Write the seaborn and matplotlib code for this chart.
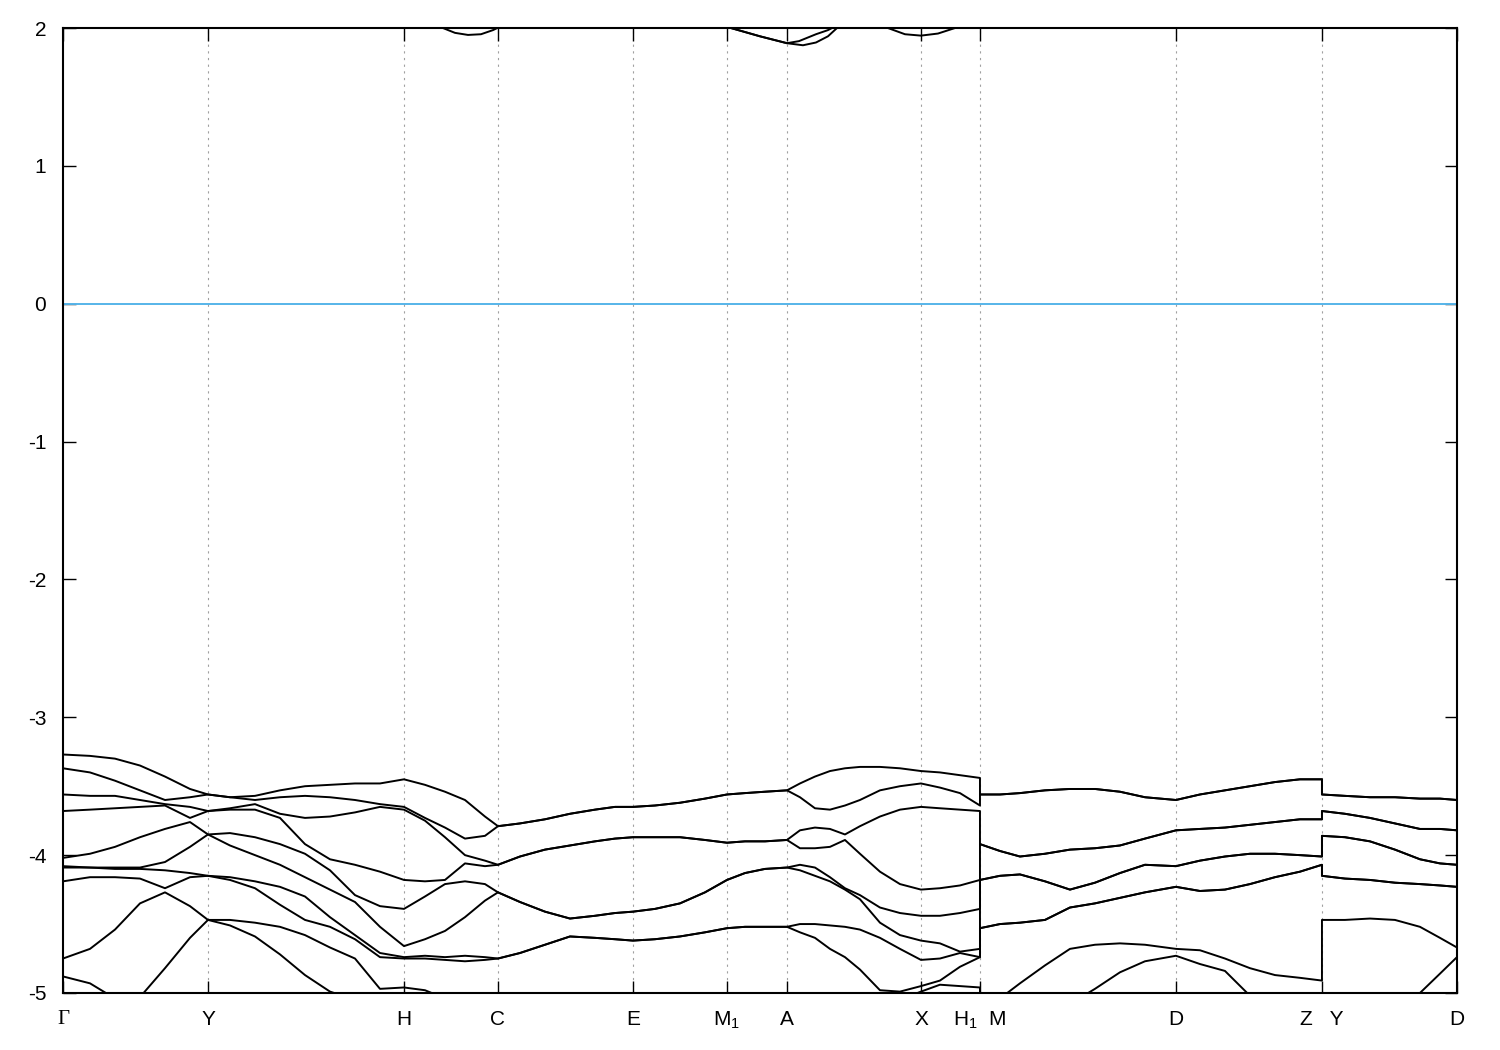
import matplotlib
matplotlib.use("Agg")
import matplotlib.pyplot as plt
import pandas as pd
import seaborn as sns

# high-symmetry points along the k-path
sym_k = [0.00, 1.45, 3.41, 4.35, 5.70, 6.64, 7.24, 8.58, 9.17, 11.13, 12.59, 13.94]
sym_labels = ["Γ", "Y", "H", "C", "E", "M$_1$", "A", "X", "H$_1$  M", "D", "Z   Y", "D"]

# sampled k values (H1|M and Z|Y are path jumps, so they appear twice)
k_grid = [0.00, 0.27, 0.52, 0.77, 1.02, 1.27, 1.45,
          1.67, 1.92, 2.17, 2.42, 2.67, 2.92, 3.17, 3.41,
          3.62, 3.82, 4.02, 4.22, 4.35,
          4.57, 4.82, 5.07, 5.32, 5.52, 5.70,
          5.92, 6.17, 6.42, 6.64,
          6.82, 7.02, 7.24,
          7.37, 7.52, 7.67, 7.82, 7.97, 8.17, 8.37, 8.58,
          8.77, 8.97, 9.17,
          9.17,
          9.37, 9.57, 9.82, 10.07, 10.32, 10.57, 10.82, 11.13,
          11.37, 11.62, 11.87, 12.12, 12.37, 12.59,
          12.59,
          12.82, 13.07, 13.32, 13.57, 13.77, 13.94]

# valence bands (eV), sorted from the top
band_1 = [-3.27, -3.28, -3.30, -3.35, -3.43, -3.52, -3.56,
          -3.58, -3.57, -3.53, -3.50, -3.49, -3.48, -3.48, -3.45,
          -3.49, -3.54, -3.60, -3.72, -3.79,
          -3.77, -3.74, -3.70, -3.67, -3.65, -3.65,
          -3.64, -3.62, -3.59, -3.56,
          -3.55, -3.54, -3.53,
          -3.48, -3.43, -3.39, -3.37, -3.36, -3.36, -3.37, -3.39,
          -3.40, -3.42, -3.44,
          -3.56,
          -3.56, -3.55, -3.53, -3.52, -3.52, -3.54, -3.58, -3.60,
          -3.56, -3.53, -3.50, -3.47, -3.45, -3.45,
          -3.56,
          -3.57, -3.58, -3.58, -3.59, -3.59, -3.60]
band_2 = [-3.37, -3.40, -3.46, -3.53, -3.60, -3.58, -3.56,
          -3.58, -3.60, -3.58, -3.57, -3.58, -3.60, -3.63, -3.65,
          -3.73, -3.80, -3.88, -3.86, -3.79,
          -3.77, -3.74, -3.70, -3.67, -3.65, -3.65,
          -3.64, -3.62, -3.59, -3.56,
          -3.55, -3.54, -3.53,
          -3.58, -3.66, -3.67, -3.64, -3.60, -3.53, -3.50, -3.48,
          -3.51, -3.55, -3.64,
          -3.56,
          -3.56, -3.55, -3.53, -3.52, -3.52, -3.54, -3.58, -3.60,
          -3.56, -3.53, -3.50, -3.47, -3.45, -3.45,
          -3.56,
          -3.57, -3.58, -3.58, -3.59, -3.59, -3.60]
band_3 = [-3.56, -3.57, -3.57, -3.60, -3.63, -3.65, -3.68,
          -3.66, -3.63, -3.70, -3.73, -3.72, -3.69, -3.65, -3.67,
          -3.75, -3.87, -4.00, -4.04, -4.07,
          -4.01, -3.96, -3.93, -3.90, -3.88, -3.87,
          -3.87, -3.87, -3.89, -3.91,
          -3.90, -3.90, -3.89,
          -3.82, -3.80, -3.81, -3.85, -3.79, -3.72, -3.67, -3.65,
          -3.66, -3.67, -3.68,
          -3.92,
          -3.97, -4.01, -3.99, -3.96, -3.95, -3.93, -3.88, -3.82,
          -3.81, -3.80, -3.78, -3.76, -3.74, -3.74,
          -3.68,
          -3.70, -3.73, -3.77, -3.81, -3.81, -3.82]
band_4 = [-3.68, -3.67, -3.66, -3.65, -3.64, -3.73, -3.68,
          -3.67, -3.67, -3.73, -3.92, -4.03, -4.07, -4.12, -4.18,
          -4.19, -4.18, -4.06, -4.08, -4.07,
          -4.01, -3.96, -3.93, -3.90, -3.88, -3.87,
          -3.87, -3.87, -3.89, -3.91,
          -3.90, -3.90, -3.89,
          -3.95, -3.95, -3.94, -3.89, -3.99, -4.12, -4.21, -4.25,
          -4.24, -4.22, -4.18,
          -3.92,
          -3.97, -4.01, -3.99, -3.96, -3.95, -3.93, -3.88, -3.82,
          -3.81, -3.80, -3.78, -3.76, -3.74, -3.74,
          -3.68,
          -3.70, -3.73, -3.77, -3.81, -3.81, -3.82]
band_5 = [-4.02, -3.99, -3.94, -3.87, -3.81, -3.76, -3.85,
          -3.84, -3.87, -3.92, -3.99, -4.11, -4.29, -4.37, -4.39,
          -4.30, -4.21, -4.19, -4.21, -4.27,
          -4.34, -4.41, -4.46, -4.44, -4.42, -4.41,
          -4.39, -4.35, -4.27, -4.18,
          -4.13, -4.10, -4.09,
          -4.07, -4.09, -4.16, -4.24, -4.29, -4.38, -4.42, -4.44,
          -4.44, -4.42, -4.39,
          -4.18,
          -4.15, -4.14, -4.19, -4.25, -4.20, -4.13, -4.07, -4.08,
          -4.04, -4.01, -3.99, -3.99, -4.00, -4.01,
          -3.86,
          -3.87, -3.90, -3.96, -4.03, -4.06, -4.07]
band_6 = [-4.08, -4.09, -4.09, -4.09, -4.05, -3.94, -3.85,
          -3.93, -4.00, -4.07, -4.16, -4.25, -4.34, -4.52, -4.66,
          -4.61, -4.55, -4.45, -4.33, -4.27,
          -4.34, -4.41, -4.46, -4.44, -4.42, -4.41,
          -4.39, -4.35, -4.27, -4.18,
          -4.13, -4.10, -4.09,
          -4.11, -4.15, -4.19, -4.25, -4.32, -4.49, -4.58, -4.62,
          -4.64, -4.70, -4.68,
          -4.18,
          -4.15, -4.14, -4.19, -4.25, -4.20, -4.13, -4.07, -4.08,
          -4.04, -4.01, -3.99, -3.99, -4.00, -4.01,
          -3.86,
          -3.87, -3.90, -3.96, -4.03, -4.06, -4.07]
band_7 = [-4.09, -4.09, -4.10, -4.10, -4.11, -4.13, -4.15,
          -4.16, -4.19, -4.23, -4.30, -4.45, -4.58, -4.71, -4.74,
          -4.73, -4.74, -4.73, -4.74, -4.75,
          -4.71, -4.65, -4.59, -4.60, -4.61, -4.62,
          -4.61, -4.59, -4.56, -4.53,
          -4.52, -4.52, -4.52,
          -4.50, -4.50, -4.51, -4.52, -4.54, -4.60, -4.68, -4.76,
          -4.75, -4.71, -4.74,
          -4.53,
          -4.50, -4.49, -4.47, -4.38, -4.35, -4.31, -4.27, -4.23,
          -4.26, -4.25, -4.21, -4.16, -4.12, -4.07,
          -4.15,
          -4.17, -4.18, -4.20, -4.21, -4.22, -4.23]
band_8 = [-4.19, -4.16, -4.16, -4.17, -4.24, -4.16, -4.15,
          -4.18, -4.24, -4.36, -4.47, -4.52, -4.61, -4.74, -4.75,
          -4.75, -4.76, -4.77, -4.76, -4.75,
          -4.71, -4.65, -4.59, -4.60, -4.61, -4.62,
          -4.61, -4.59, -4.56, -4.53,
          -4.52, -4.52, -4.52,
          -4.56, -4.60, -4.68, -4.74, -4.83, -4.98, -4.99, -4.95,
          -4.91, -4.81, -4.74,
          -4.53,
          -4.50, -4.49, -4.47, -4.38, -4.35, -4.31, -4.27, -4.23,
          -4.26, -4.25, -4.21, -4.16, -4.12, -4.07,
          -4.15,
          -4.17, -4.18, -4.20, -4.21, -4.22, -4.23]
band_9 = [-4.75, -4.68, -4.54, -4.35, -4.27, -4.37, -4.47,
          -4.47, -4.49, -4.52, -4.58, -4.67, -4.75, -4.97, -4.96,
          -4.98, -5.04, -5.08, -5.12, -5.15,
          -5.20, -5.25, -5.30, -5.30, -5.30, -5.30,
          -5.30, -5.30, -5.30, -5.30,
          -5.30, -5.30, -5.30,
          -5.25, -5.15, -5.10, -5.05, -5.05, -5.02, -5.05, -4.99,
          -4.94, -4.95, -4.96,
          -5.15,
          -5.04, -4.93, -4.80, -4.68, -4.65, -4.64, -4.65, -4.68,
          -4.69, -4.75, -4.82, -4.87, -4.89, -4.91,
          -4.47,
          -4.47, -4.46, -4.47, -4.52, -4.60, -4.67]
band_10 = [-4.88, -4.93, -5.04, -5.03, -4.82, -4.60, -4.47,
           -4.51, -4.59, -4.72, -4.87, -4.99, -5.05, -5.02, -5.12,
           -5.10, -5.15, -5.20, -5.22, -5.25,
           -5.30, -5.35, -5.40, -5.40, -5.40, -5.40,
           -5.40, -5.40, -5.40, -5.40,
           -5.40, -5.40, -5.40,
           -5.35, -5.30, -5.25, -5.20, -5.15, -5.10, -5.15, -5.10,
           -5.10, -5.10, -5.10,
           -5.50,
           -5.45, -5.35, -5.20, -5.08, -4.97, -4.85, -4.77, -4.73,
           -4.79, -4.84, -5.02, -5.10, -5.15, -5.20,
           -5.20,
           -5.20, -5.20, -5.15, -5.00, -4.86, -4.74]

# lowest conduction bands, only their dips below 2 eV show
cond_k_1 = [3.55, 3.80, 3.92, 4.05, 4.18, 4.30, 4.40, 4.55,
            6.50, 6.68, 6.97, 7.24, 7.40, 7.53, 7.65, 7.74, 7.90,
            8.10, 8.25, 8.42, 8.58, 8.75, 8.92, 9.05]
cond_1 = [2.07, 2.00, 1.965, 1.95, 1.955, 1.985, 2.02, 2.08,
          2.06, 2.00, 1.94, 1.89, 1.875, 1.895, 1.94, 2.00, 2.08,
          2.06, 2.00, 1.955, 1.945, 1.96, 2.00, 2.05]
cond_k_2 = [6.68, 6.97, 7.24, 7.36, 7.53, 7.65, 7.69, 7.80]
cond_2 = [2.00, 1.94, 1.89, 1.905, 1.955, 1.985, 2.00, 2.05]

valence = [band_1, band_2, band_3, band_4, band_5,
           band_6, band_7, band_8, band_9, band_10]

rows = []
for b, energies in enumerate(valence):
    for k, e in zip(k_grid, energies):
        rows.append({"band": b, "k": k, "energy": e})
for b, (ks, es) in enumerate([(cond_k_1, cond_1), (cond_k_2, cond_2)]):
    for k, e in zip(ks, es):
        rows.append({"band": 100 + b, "k": k, "energy": e})
df = pd.DataFrame(rows)

sns.set_style("ticks")
plt.rcParams["font.family"] = ["Liberation Sans", "DejaVu Sans"]
plt.rcParams["mathtext.fontset"] = "custom"
plt.rcParams["mathtext.rm"] = "Liberation Sans"
plt.rcParams["mathtext.it"] = "Liberation Sans:italic"
plt.rcParams["axes.unicode_minus"] = False

fig = plt.figure(figsize=(15, 10.5), dpi=100)
ax = fig.add_axes([0.042, 0.0543, 0.9293, 0.919])

for k in sym_k[1:-1]:
    ax.axvline(k, color="#a0a0a0", lw=0.8, ls=(0, (2, 4)), zorder=0)
ax.axhline(0, color="#56b4e9", lw=1.4, zorder=1)

sns.lineplot(data=df, x="k", y="energy", units="band", estimator=None,
             sort=False, color="black", lw=1.4, legend=False, ax=ax)

ax.set_xlim(sym_k[0], sym_k[-1])
ax.set_ylim(-5, 2)
ax.set_xticks(sym_k)
ax.set_xticklabels(sym_labels)
ax.set_yticks(range(-5, 3))
ax.set_xlabel("")
ax.set_ylabel("")
ax.tick_params(direction="in", length=9, width=1, top=True, right=True,
               labelsize=15, pad=12, colors="black")
ax.get_xticklabels()[0].set_fontfamily(["Liberation Serif"])
for sp in ax.spines.values():
    sp.set_linewidth(1.5)
    sp.set_color("black")

fig.savefig("out.png", dpi=100)
